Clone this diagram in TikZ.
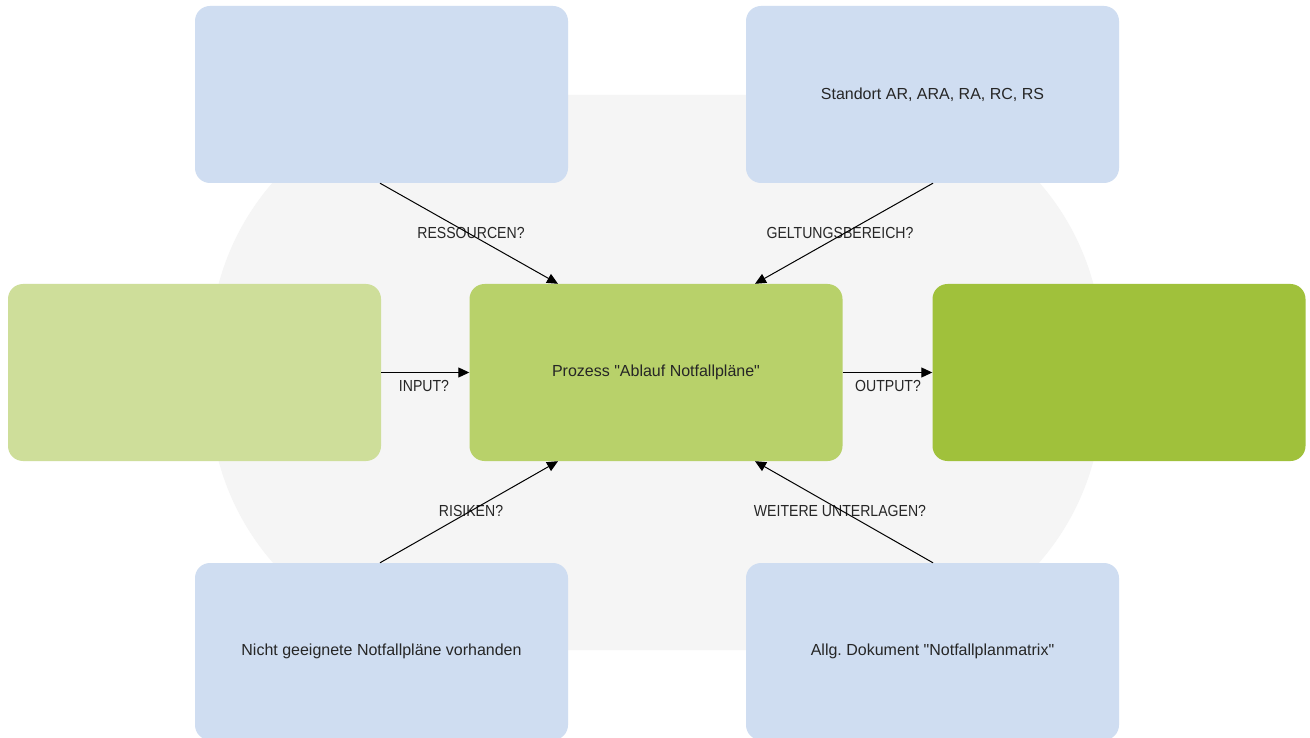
\documentclass[tikz,border=0pt]{standalone}
\usepackage{fontspec}
\setmainfont{Liberation Sans}
\newfontfamily\narrowfont[FakeStretch=0.88]{Liberation Sans}
\usetikzlibrary{arrows.meta,calc}
\definecolor{bgc}{HTML}{F5F5F5}
\definecolor{boxblue}{HTML}{CFDDF1}
\definecolor{greenA}{HTML}{CEDE9A}
\definecolor{greenB}{HTML}{B8D16A}
\definecolor{greenC}{HTML}{A0C13B}
\definecolor{txt}{HTML}{262626}
\frenchspacing
\tikzset{
  card/.style={rounded corners=15pt, minimum width=373pt, minimum height=177pt, inner sep=0pt,
    text=txt, font=\fontsize{16}{19}\selectfont, align=center},
  conn/.style={draw=black, line width=1pt, -{Triangle[length=11pt,width=10pt]}},
  lbl/.style={text=txt, font=\narrowfont\fontsize{16}{19}\selectfont, inner sep=0pt}
}
\begin{document}
\begin{tikzpicture}[x=1pt,y=-1pt]
\useasboundingbox (0,0) rectangle (1310,738);
\fill[white] (0,0) rectangle (1310,738);
\fill[bgc, rounded corners=255pt] (210,95) rectangle (1102,650);
\node[card, fill=boxblue] (tl) at (381.5,94.5) {};
\node[card, fill=boxblue] (tr) at (932.5,94.5) {Standort AR, ARA, RA, RC, RS};
\node[card, fill=greenA] (l) at (194.5,372.5) {};
\node[card, fill=greenB] (c) at (656,372.5) {Prozess \textquotedbl Ablauf Notfallpläne\textquotedbl};
\node[card, fill=greenC] (r) at (1119,372.5) {};
\node[card, fill=boxblue] (bl) at (381.5,651.5) {Nicht geeignete Notfallpläne vorhanden};
\node[card, fill=boxblue] (br) at (932.5,651.5) {Allg.\ Dokument \textquotedbl Notfallplanmatrix\textquotedbl};
\node[lbl] (lres) at (471,233) {RESSOURCEN?};
\node[lbl] (lgel) at (840,233) {GELTUNGSBEREICH?};
\node[lbl] (lin) at (424,386) {INPUT?};
\node[lbl] (lout) at (888,386) {OUTPUT?};
\node[lbl] (lris) at (471,511) {RISIKEN?};
\node[lbl] (lwei) at (840,511) {WEITERE UNTERLAGEN?};
\draw[conn] ($(tl.south)+(-1.5,0)$) -- ($(c.north)+(-98,0)$);
\draw[conn] ($(tr.south)+(0.5,0)$) -- ($(c.north)+(99,0)$);
\draw[conn] (l.east) -- (c.west);
\draw[conn] (c.east) -- (r.west);
\draw[conn] ($(bl.north)+(-1.5,0)$) -- ($(c.south)+(-98,0)$);
\draw[conn] ($(br.north)+(0.5,0)$) -- ($(c.south)+(99,0)$);
\end{tikzpicture}
\end{document}
